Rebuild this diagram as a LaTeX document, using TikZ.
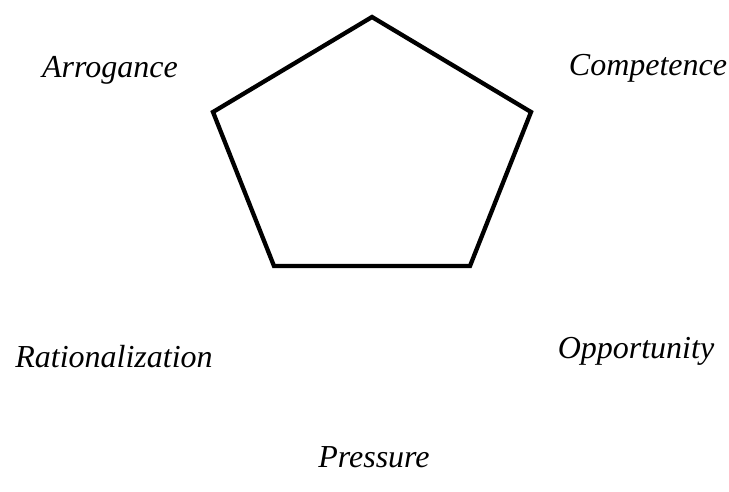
\documentclass[tikz,border=0pt]{standalone}
\usepackage{fontspec}
\setmainfont{Liberation Serif}
\begin{document}
\begin{tikzpicture}[x=1pt,y=-1pt]
  \tikzset{lbl/.style={anchor=base,inner sep=0pt,font=\fontsize{32}{37}\selectfont\itshape}}
  \useasboundingbox (0,0) rectangle (729,491);
  \coordinate (top) at (372,17);
  \coordinate (rt) at (531,112);
  \coordinate (br) at (470,266);
  \coordinate (bl) at (274,266);
  \coordinate (lt) at (213,112);
  \draw[line width=4.3pt,line join=miter] (top) -- (rt) -- (br) -- (bl) -- (lt) -- cycle;
  \node[lbl] (arr) at (110,77) {Arrogance};
  \node[lbl] (com) at (648,75) {Competence};
  \node[lbl] (rat) at (114,367) {Rationalization};
  \node[lbl] (opp) at (636,358) {Opportunity};
  \node[lbl] (pre) at (374,467) {Pressure};
\end{tikzpicture}
\end{document}
